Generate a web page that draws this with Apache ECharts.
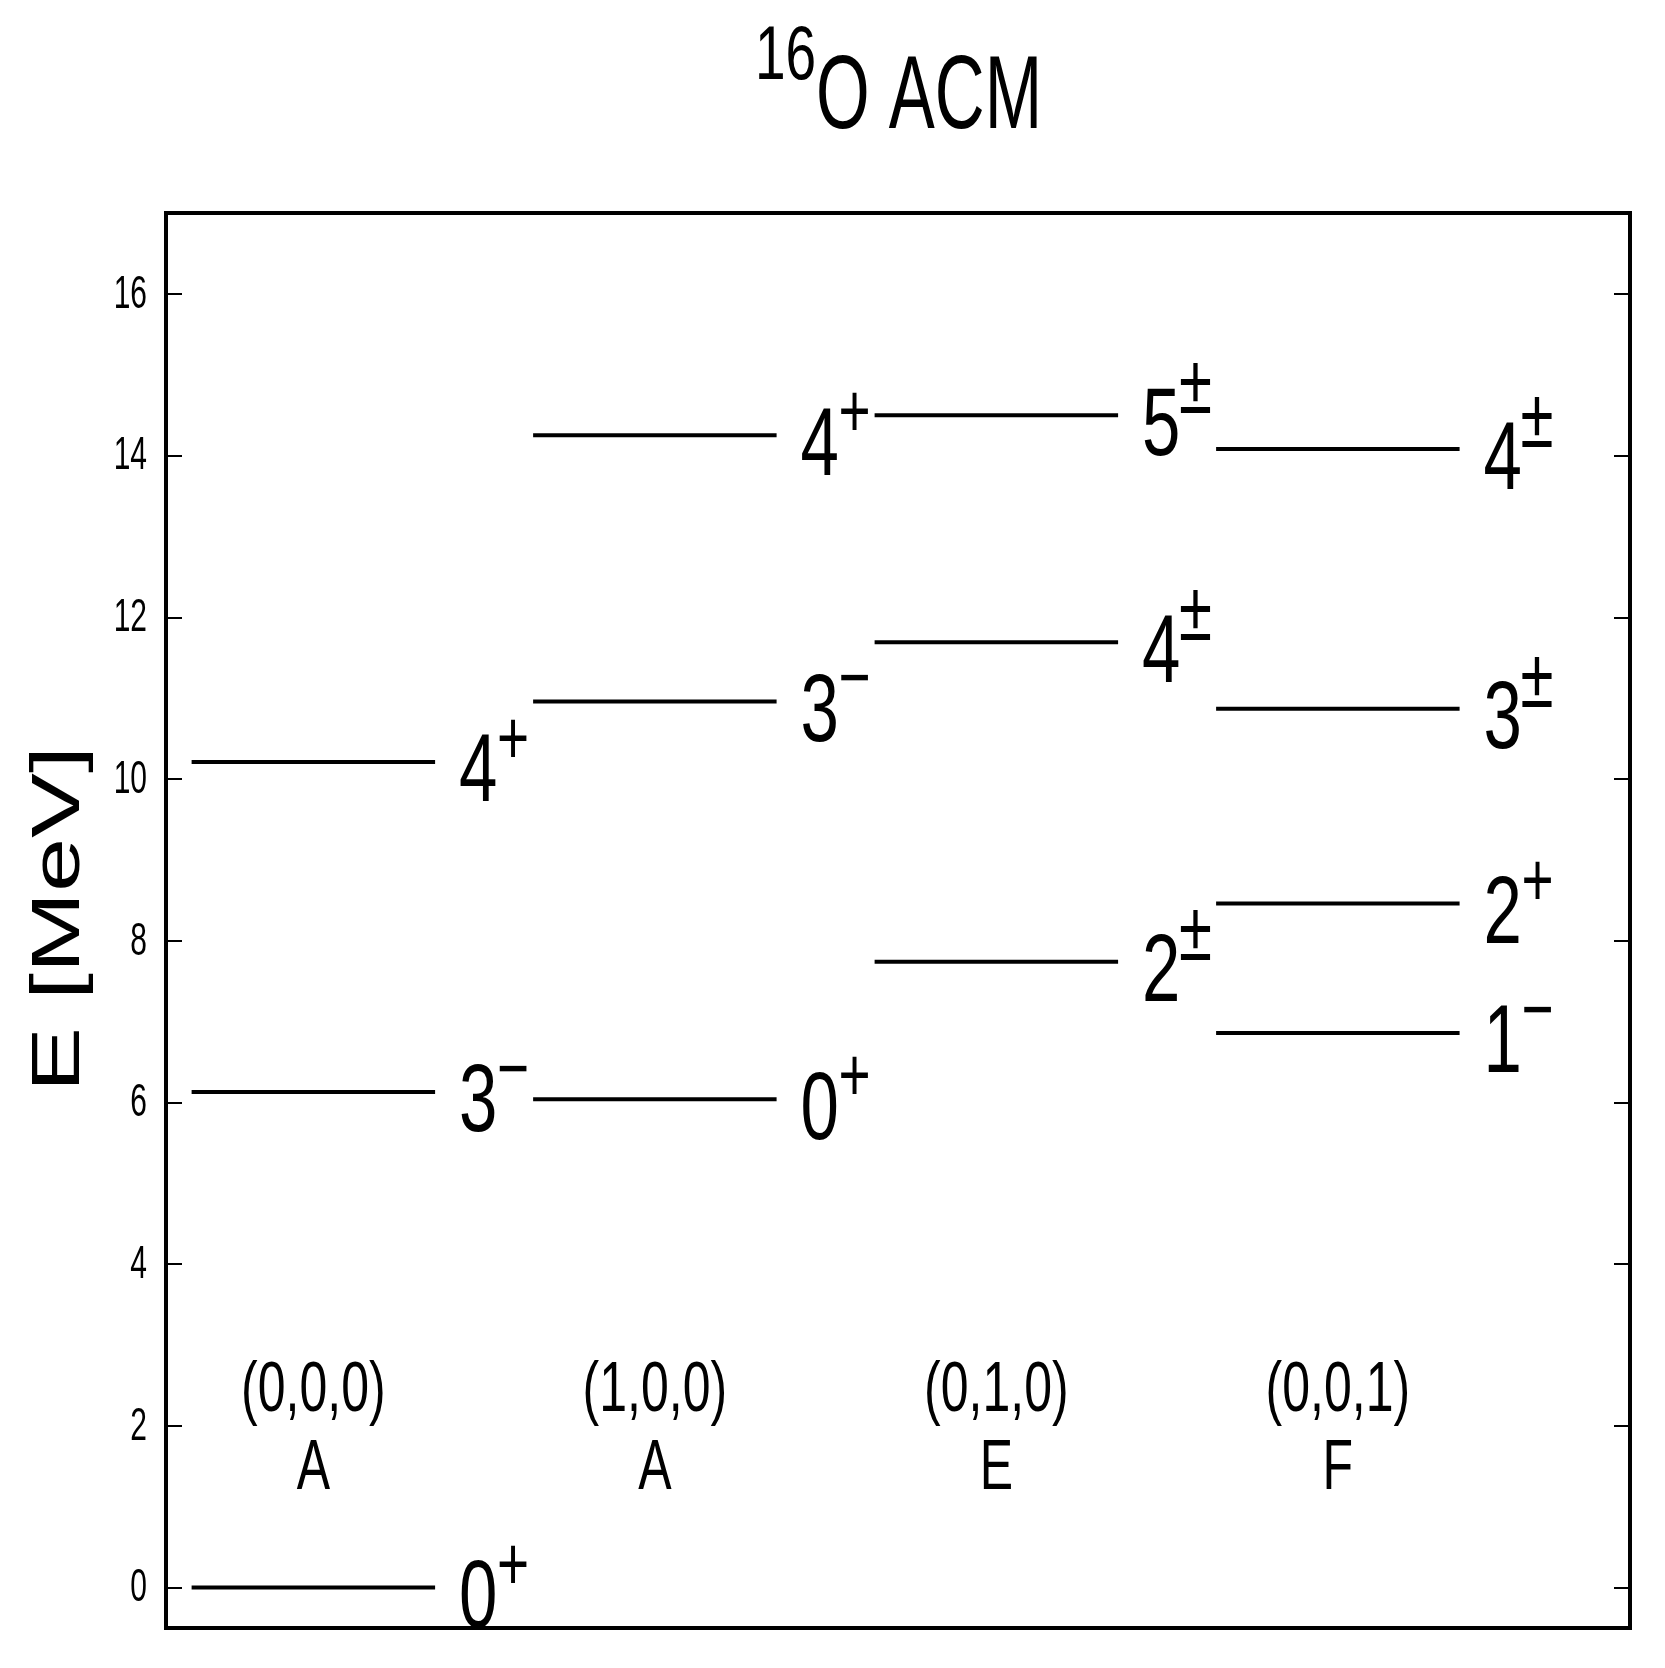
<!DOCTYPE html>
<html>
<head>
<meta charset="utf-8">
<script src="https://cdn.jsdelivr.net/npm/echarts@6/dist/echarts.min.js"></script>
<style>
html,body{margin:0;padding:0;background:#fff;}
#chart{width:1665px;height:1668px;}
</style>
</head>
<body>
<div id="chart"></div>
<script>
// ---------------- data ----------------
const bands = ['(0,0,0)', '(1,0,0)', '(0,1,0)', '(0,0,1)'];
const irreps = ['A', 'A', 'E', 'F'];
const bandEnergies = [
  [0.00, 6.13, 10.21],
  [6.04, 10.96, 14.25],
  [7.74, 11.69, 14.50],
  [6.86, 8.46, 10.87, 14.08]
];
const bandSpins = [
  ['0', '3', '4'],
  ['0', '3', '4'],
  ['2', '4', '5'],
  ['1', '2', '3', '4']
];
const bandParities = [
  ['+', '\u2212', '+'],
  ['+', '\u2212', '+'],
  ['\u00B1', '\u00B1', '\u00B1'],
  ['\u2212', '+', '\u00B1', '\u00B1']
];
const yTickValues = [0, 2, 4, 6, 8, 10, 12, 14, 16];
const yTickLabels = ['0', '2', '4', '6', '8', '10', '12', '14', '16'];
const titleIsotope = '16';
const titleMain = 'O ACM';
const yAxisTitle = 'E [MeV]';

// ---------------- layout / style ----------------
const FONT = '"Liberation Sans", Arial, Helvetica, sans-serif';
const STRETCH = 1.39;
const LINE_FROM = 0.075, LINE_TO = 0.788;
const BAND_NAME_E = 2.42, IRREP_E = 1.46;

const levelCols = [], levelE = [], levelSpin = [], levelPar = [];
bandEnergies.forEach((arr, c) => arr.forEach((e, k) => {
  levelCols.push(c); levelE.push(e);
  levelSpin.push(bandSpins[c][k]); levelPar.push(bandParities[c][k]);
}));

function txt(x, y, text, size, extra, align) {
  align = align || 'left';
  return Object.assign({
    type: 'text', x: x, y: y, scaleY: STRETCH, silent: true,
    style: { text: text, font: size + 'px ' + FONT, fill: '#000',
      textAlign: align, textVerticalAlign: 'middle', align: align, verticalAlign: 'middle' }
  }, extra || {});
}

function renderLevel(params, api) {
  const i = params.dataIndex;
  const col = api.value(0), E = api.value(1);
  const a = api.coord([col + LINE_FROM, E]);
  const b = api.coord([col + LINE_TO, E]);
  const pm = levelPar[i] === '\u00B1';
  return {
    type: 'group',
    children: [
      { type: 'line', shape: { x1: a[0], y1: a[1], x2: b[0], y2: b[1] },
        style: { stroke: '#000', lineWidth: 4 } },
      txt(b[0] + 24, b[1] + 13, levelSpin[i], 69),
      pm ? txt(b[0] + 61, b[1] - 25, levelPar[i], 60)
         : txt(b[0] + 62, b[1] - 19, levelPar[i], 55)
    ]
  };
}

function renderBand(params, api) {
  const c = api.value(0);
  const xc = c + (LINE_FROM + LINE_TO) / 2;
  const p1 = api.coord([xc, BAND_NAME_E]);
  const p2 = api.coord([xc, IRREP_E]);
  return { type: 'group', children: [
    txt(p1[0], p1[1], bands[c], 50, null, 'center'),
    txt(p2[0], p2[1], irreps[c], 50, null, 'center')
  ] };
}

function renderTickLabel(params, api) {
  const i = params.dataIndex;
  const p = api.coord([0, api.value(1)]);
  return txt(p[0] - 19, p[1] + 1, yTickLabels[i], 30, { scaleY: 1.55 }, 'right');
}

const chart = echarts.init(document.getElementById('chart'), null, { renderer: 'canvas' });

const yBase = {
  type: 'value', min: -0.5, max: 17,
  axisLine: { show: false },
  splitLine: { show: false },
  axisLabel: { show: false },
  axisTick: { show: true, inside: true, length: 16, customValues: yTickValues,
    lineStyle: { color: '#000', width: 2 } }
};

chart.setOption({
  animation: false,
  backgroundColor: '#fff',
  grid: { left: 166, right: 35, top: 213, bottom: 40, show: true,
    borderColor: '#000', borderWidth: 4, backgroundColor: 'transparent' },
  xAxis: { type: 'value', min: 0, max: 4.287, show: false },
  yAxis: [
    Object.assign({}, yBase, { position: 'left' }),
    Object.assign({}, yBase, { position: 'right' })
  ],
  graphic: [
    txt(755, 57.5, titleIsotope, 55),
    txt(816, 99.5, titleMain, 75, { scaleX: 0.92 }),
    {
      type: 'text', x: 60, y: 919, rotation: Math.PI / 2, scaleX: 1.43, silent: true,
      style: { text: yAxisTitle, font: '68px ' + FONT, fill: '#000',
        textAlign: 'center', textVerticalAlign: 'middle', align: 'center', verticalAlign: 'middle' }
    }
  ],
  series: [
    {
      type: 'custom', name: 'levels', coordinateSystem: 'cartesian2d',
      xAxisIndex: 0, yAxisIndex: 0, clip: false,
      encode: { x: 0, y: 1 },
      data: levelCols.map((c, i) => [c, levelE[i]]),
      renderItem: renderLevel
    },
    {
      type: 'custom', name: 'bands', coordinateSystem: 'cartesian2d',
      xAxisIndex: 0, yAxisIndex: 0, clip: false,
      encode: { x: 0, y: 1 },
      data: bands.map((b, i) => [i, BAND_NAME_E]),
      renderItem: renderBand
    },
    {
      type: 'custom', name: 'yTickLabels', coordinateSystem: 'cartesian2d',
      xAxisIndex: 0, yAxisIndex: 0, clip: false,
      encode: { x: 0, y: 1 },
      data: yTickValues.map(v => [0, v]),
      renderItem: renderTickLabel
    }
  ]
});
</script>
</body>
</html>
